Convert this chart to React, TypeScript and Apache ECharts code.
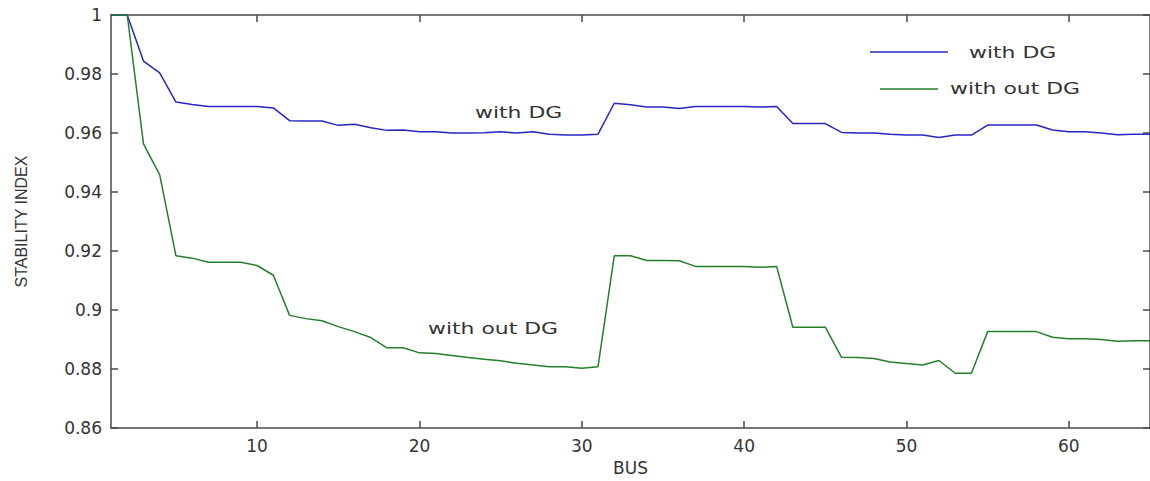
import React, { useEffect, useRef } from "react";
import * as echarts from "echarts";

const buses: number[] = Array.from({ length: 65 }, (_, i) => i + 1);

const withDG: number[] = [
  1, 1, 0.9844, 0.9804, 0.9705, 0.9697, 0.969, 0.969, 0.969, 0.969,
  0.9685, 0.9642, 0.9641, 0.9641, 0.9626, 0.963, 0.9618, 0.9609, 0.961, 0.9604,
  0.9604, 0.96, 0.96, 0.9601, 0.9604, 0.96, 0.9604, 0.9596, 0.9593, 0.9593,
  0.9596, 0.9701, 0.9696, 0.9688, 0.9688, 0.9683, 0.969, 0.969, 0.969, 0.969,
  0.9688, 0.969, 0.9632, 0.9632, 0.9632, 0.9602, 0.96, 0.96, 0.9596, 0.9593,
  0.9593, 0.9585, 0.9593, 0.9593, 0.9627, 0.9627, 0.9627, 0.9627, 0.961, 0.9604,
  0.9604, 0.96, 0.9594, 0.9596, 0.9596,
];

const withoutDG: number[] = [
  1, 1, 0.9563, 0.9458, 0.9184, 0.9176, 0.9162, 0.9162, 0.9162, 0.9151,
  0.9118, 0.8982, 0.8971, 0.8964, 0.8944, 0.8927, 0.8907, 0.8872, 0.8872, 0.8855,
  0.8853, 0.8846, 0.8839, 0.8833, 0.8828, 0.882, 0.8814, 0.8808, 0.8808, 0.8803,
  0.8808, 0.9184, 0.9184, 0.9168, 0.9168, 0.9167, 0.9148, 0.9148, 0.9148, 0.9148,
  0.9145, 0.9148, 0.8942, 0.8942, 0.8942, 0.884, 0.8839, 0.8836, 0.8824, 0.8819,
  0.8814, 0.8829, 0.8786, 0.8786, 0.8927, 0.8927, 0.8927, 0.8927, 0.8908, 0.8903,
  0.8903, 0.89, 0.8894, 0.8896, 0.8896,
];

const xTicks: number[] = [10, 20, 30, 40, 50, 60];
const seriesNames: string[] = ["with DG", "with out DG"];
const seriesColors: string[] = ["#2626c4", "#23802a"];

const FONT = "DejaVu Sans";
const TEXT = "#333333";
const AXIS = "#4a4a4a";

export default function App() {
  const ref = useRef<HTMLDivElement>(null);

  useEffect(() => {
    if (!ref.current) return;
    const chart = echarts.init(ref.current, undefined, { renderer: "svg" });

    const axisLine = { show: true, lineStyle: { color: AXIS, width: 1.5 } };
    const tick = { show: true, inside: true, length: 7, lineStyle: { color: AXIS, width: 1.5 } };

    const stretch = 1.37;
    const label = (text: string, x: number, y: number) => ({
      type: "text",
      x,
      y,
      scaleX: stretch,
      style: {
        text,
        fill: TEXT,
        font: `16px "${FONT}"`,
        textAlign: "left",
        textVerticalAlign: "middle",
      },
    });

    chart.setOption({
      animation: false,
      backgroundColor: "#ffffff",
      grid: { left: 111, top: 15, width: 1041, bottom: 44, containLabel: false },
      xAxis: [
        {
          type: "value",
          min: 1,
          max: 65,
          name: "BUS",
          nameLocation: "middle",
          nameGap: 27,
          nameTextStyle: { color: TEXT, fontFamily: FONT, fontSize: 17 },
          axisLine,
          axisTick: { ...tick, customValues: xTicks },
          axisLabel: {
            color: TEXT,
            fontFamily: FONT,
            fontSize: 17,
            margin: 9,
            customValues: xTicks,
          },
          splitLine: { show: false },
        },
        {
          type: "value",
          position: "top",
          min: 1,
          max: 65,
          axisLine,
          axisTick: { ...tick, customValues: xTicks },
          axisLabel: { show: false },
          splitLine: { show: false },
        },
      ],
      yAxis: [
        {
          type: "value",
          min: 0.86,
          max: 1,
          interval: 0.02,
          name: "STABILITY INDEX",
          nameLocation: "middle",
          nameGap: 82,
          nameTextStyle: { color: TEXT, fontFamily: "Liberation Sans", fontSize: 16 },
          axisLine,
          axisTick: tick,
          axisLabel: { color: TEXT, fontFamily: FONT, fontSize: 17, margin: 9 },
          splitLine: { show: false },
        },
        {
          type: "value",
          position: "right",
          min: 0.86,
          max: 1,
          interval: 0.02,
          axisLine,
          axisTick: tick,
          axisLabel: { show: false },
          splitLine: { show: false },
        },
      ],
      series: [withDG, withoutDG].map((vals, i) => ({
        name: seriesNames[i],
        type: "line",
        data: buses.map((b, j) => [b, vals[j]]),
        showSymbol: false,
        symbol: "none",
        lineStyle: { color: seriesColors[i], width: 1.5 },
        itemStyle: { color: seriesColors[i] },
      })),
      graphic: [
        {
          type: "line",
          shape: { x1: 870, y1: 52, x2: 948, y2: 52 },
          style: { stroke: seriesColors[0], lineWidth: 1.5 },
        },
        label(seriesNames[0], 969, 53),
        {
          type: "line",
          shape: { x1: 880, y1: 89, x2: 938, y2: 89 },
          style: { stroke: seriesColors[1], lineWidth: 1.5 },
        },
        label(seriesNames[1], 950, 89),
        label("with DG", 475, 113),
        label("with out DG", 428, 329),
      ],
    });

    return () => chart.dispose();
  }, []);

  return (
    <div
      ref={ref}
      style={{ position: "absolute", left: 0, top: 0, width: 1150, height: 481, background: "#fff" }}
    />
  );
}
